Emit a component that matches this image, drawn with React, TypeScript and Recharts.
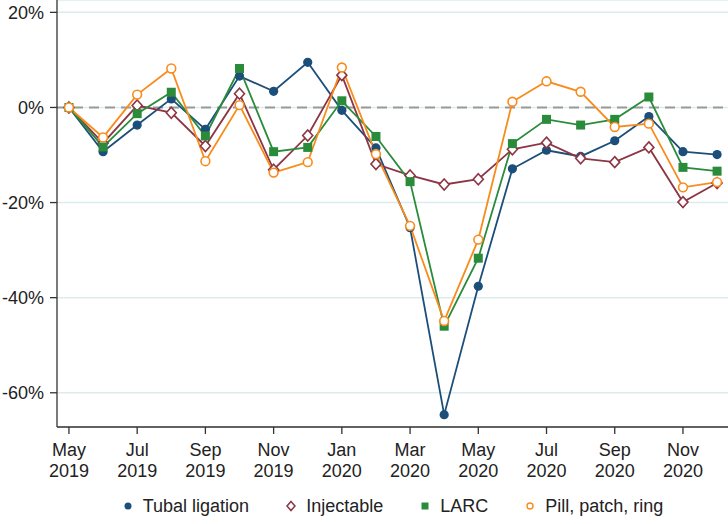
import { LineChart, Line, XAxis, YAxis, CartesianGrid, ReferenceLine, Legend } from "recharts"

const months = [
  "May 2019", "Jun 2019", "Jul 2019", "Aug 2019", "Sep 2019", "Oct 2019", "Nov 2019", "Dec 2019",
  "Jan 2020", "Feb 2020", "Mar 2020", "Apr 2020", "May 2020", "Jun 2020", "Jul 2020", "Aug 2020",
  "Sep 2020", "Oct 2020", "Nov 2020", "Dec 2020",
]
const tubal = [0, -9.3, -3.7, 1.8, -4.6, 6.6, 3.4, 9.5, -0.6, -8.5, -25.3, -64.6, -37.6, -12.9, -9.0, -10.3, -7.0, -1.9, -9.3, -9.9]
const injectable = [0, -7.5, 0.4, -1.1, -8.1, 2.9, -13.1, -5.9, 6.8, -11.9, -14.3, -16.2, -15.1, -8.8, -7.4, -10.7, -11.5, -8.4, -19.9, -15.9]
const larc = [0, -8.3, -1.3, 3.2, -6.0, 8.2, -9.3, -8.4, 1.4, -6.1, -15.6, -46.0, -31.7, -7.6, -2.5, -3.7, -2.5, 2.2, -12.6, -13.4]
const pill = [0, -6.3, 2.7, 8.2, -11.3, 0.5, -13.7, -11.5, 8.4, -9.8, -24.9, -44.9, -27.8, 1.2, 5.5, 3.3, -4.1, -3.4, -16.8, -15.7]
const xTicks = [0, 2, 4, 6, 8, 10, 12, 14, 16, 18]
const yTicks = [-60, -40, -20, 0, 20]

const C_TUBAL = "#1b4f7a"
const C_INJ = "#8c3544"
const C_LARC = "#2a8c3a"
const C_PILL = "#f98b1c"
const FONT = "'Liberation Sans', Arial, sans-serif"

const data = months.map((m, i) => ({
  i,
  month: m,
  tubal: tubal[i],
  injectable: injectable[i],
  larc: larc[i],
  pill: pill[i],
}))

const XTick = ({ x, y, payload }: any) => {
  const [mon, yr] = months[payload.value].split(" ")
  return (
    <text x={x} y={y} textAnchor="middle" fontSize={18} fill="#222" fontFamily={FONT}>
      <tspan x={x} dy={19.5}>{mon}</tspan>
      <tspan x={x} dy={21}>{yr}</tspan>
    </text>
  )
}

const tubalDot = (p: any) => <circle key={p.index} cx={p.cx} cy={p.cy} r={4.6} fill={C_TUBAL} />
const injDot = (p: any) => (
  <polygon
    key={p.index}
    points={`${p.cx},${p.cy - 5.5} ${p.cx + 5},${p.cy} ${p.cx},${p.cy + 5.5} ${p.cx - 5},${p.cy}`}
    fill="#fff"
    stroke={C_INJ}
    strokeWidth={1.6}
  />
)
const larcDot = (p: any) => <rect key={p.index} x={p.cx - 4.5} y={p.cy - 4.5} width={9} height={9} fill={C_LARC} />
const pillDot = (p: any) => <circle key={p.index} cx={p.cx} cy={p.cy} r={4.4} fill="#fff" stroke={C_PILL} strokeWidth={1.6} />

const legendItems = [
  { label: "Tubal ligation", icon: <circle cx={6} cy={6} r={3.5} fill={C_TUBAL} /> },
  { label: "Injectable", icon: <polygon points="6,1.5 10,6 6,10.5 2,6" fill="#fff" stroke={C_INJ} strokeWidth={1.5} /> },
  { label: "LARC", icon: <rect x={2.5} y={2.5} width={7} height={7} fill={C_LARC} /> },
  { label: "Pill, patch, ring", icon: <circle cx={6} cy={6} r={3} fill="#fff" stroke={C_PILL} strokeWidth={1.4} /> },
]

const LegendContent = () => (
  <div style={{ display: "flex", justifyContent: "center", alignItems: "center", height: 36, fontFamily: FONT, fontSize: 18, color: "#222" }}>
    {legendItems.map((it, k) => (
      <div key={k} style={{ display: "flex", alignItems: "center", marginLeft: k === 0 ? 0 : 36 }}>
        <svg width={12} height={12} style={{ marginRight: 9 }}>{it.icon}</svg>
        <span>{it.label}</span>
      </div>
    ))}
  </div>
)

export default function App() {
  return (
    <div style={{ position: "absolute", left: 0, top: 0, width: 728, height: 524, background: "#fff" }}>
      <LineChart width={728} height={524} data={data} margin={{ top: 0, right: 0, bottom: 0, left: 0 }}>
        <CartesianGrid horizontal vertical={false} stroke="#dcecec" strokeWidth={1.5} />
        <XAxis
          type="number"
          dataKey="i"
          domain={[-0.35, 19.32]}
          ticks={xTicks}
          interval={0}
          allowDataOverflow
          height={61}
          tickSize={7}
          tick={<XTick />}
          stroke="#333"
          strokeWidth={1.3}
          tickLine={{ stroke: "#333", strokeWidth: 1.3 }}
        />
        <YAxis
          type="number"
          domain={[-67.2, 22.6]}
          ticks={yTicks}
          interval={0}
          allowDataOverflow
          width={57}
          tickSize={7}
          tickMargin={6}
          tickFormatter={(v) => `${v}%`}
          tick={{ fontSize: 18, fill: "#222", fontFamily: FONT }}
          stroke="#333"
          strokeWidth={1.3}
          tickLine={{ stroke: "#333", strokeWidth: 1.3 }}
        />
        <ReferenceLine y={0} stroke="#999" strokeWidth={2} strokeDasharray="10 6" />
        <Legend
          verticalAlign="bottom"
          content={<LegendContent />}
          wrapperStyle={{ left: 57, width: 671, bottom: 0 }}
        />
        <Line dataKey="tubal" stroke={C_TUBAL} strokeWidth={1.8} dot={tubalDot} isAnimationActive={false} />
        <Line dataKey="injectable" stroke={C_INJ} strokeWidth={1.8} dot={injDot} isAnimationActive={false} />
        <Line dataKey="larc" stroke={C_LARC} strokeWidth={1.8} dot={larcDot} isAnimationActive={false} />
        <Line dataKey="pill" stroke={C_PILL} strokeWidth={1.8} dot={pillDot} isAnimationActive={false} />
      </LineChart>
    </div>
  )
}
